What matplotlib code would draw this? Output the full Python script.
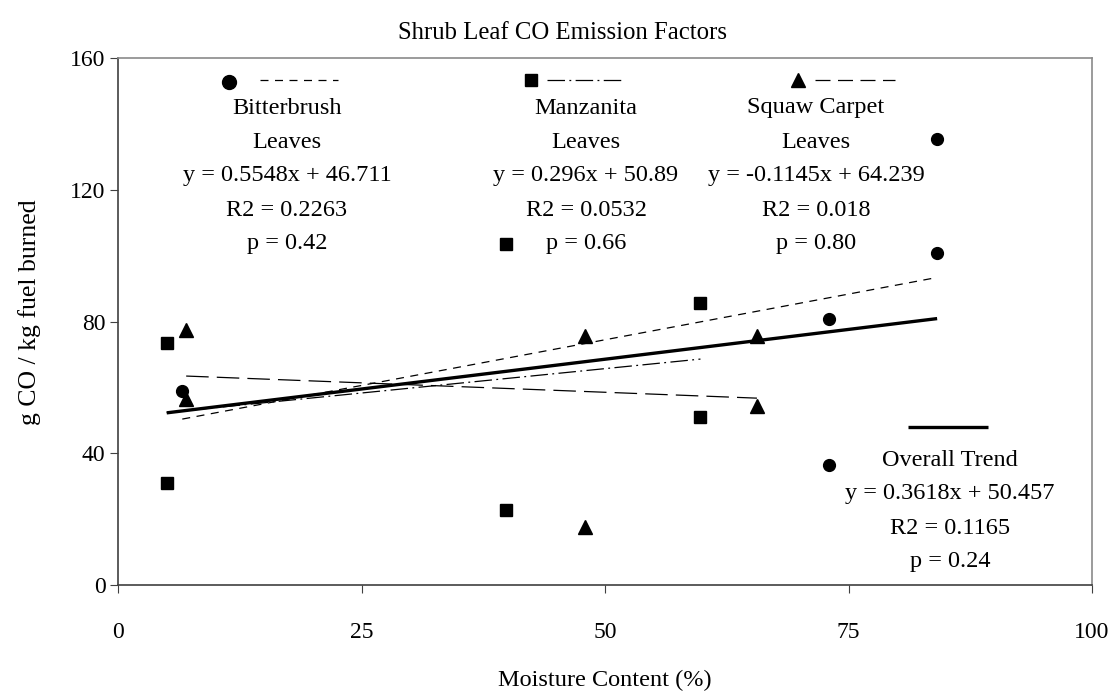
import matplotlib
matplotlib.use("Agg")
import matplotlib.pyplot as plt
import numpy as np

plt.rcParams['font.family'] = ['Liberation Serif', 'DejaVu Serif']

# Data
bitter_x = [6.6, 73.0, 73.0, 84.1, 84.1]
bitter_y = [59.0, 36.4, 80.8, 135.3, 100.8]
manz_x = [5.0, 5.0, 39.8, 39.8, 59.8, 59.8]
manz_y = [73.6, 31.1, 22.8, 103.5, 85.5, 51.1]
squaw_x = [7.0, 7.0, 47.9, 47.9, 65.6, 65.6]
squaw_y = [77.4, 56.4, 75.6, 17.7, 75.6, 54.3]

# Trendline equations (slope, intercept)
bitter_fit = (0.5548, 46.711)
manz_fit = (0.296, 50.89)
squaw_fit = (-0.1145, 64.239)
overall_fit = (0.3618, 50.457)

bitter_text = ["Bitterbrush", "Leaves", "y = 0.5548x + 46.711", "R2 = 0.2263", "p = 0.42"]
manz_text = ["Manzanita", "Leaves", "y = 0.296x + 50.89", "R2 = 0.0532", "p = 0.66"]
squaw_text = ["Squaw Carpet", "Leaves", "y = -0.1145x + 64.239", "R2 = 0.018", "p = 0.80"]
overall_text = ["Overall Trend", "y = 0.3618x + 50.457", "R2 = 0.1165", "p = 0.24"]

xticks = [0, 25, 50, 75, 100]
yticks = [0, 40, 80, 120, 160]

fig = plt.figure(figsize=(11.13, 6.98), dpi=100)
ax = fig.add_axes([118/1113, 1-585/698, (1092-118)/1113, (585-58)/698])

FS = 17.5
TFS = 17
ms = 8.5

ax.plot(bitter_x, bitter_y, 'o', color='black', ms=ms, zorder=5)
ax.plot(manz_x, manz_y, 's', color='black', ms=ms-0.5, zorder=5)
ax.plot(squaw_x, squaw_y, '^', color='black', ms=ms+1, zorder=5)

def trend(xs, fit):
    x0, x1 = min(xs), max(xs)
    xx = np.array([x0, x1])
    return xx, fit[0]*xx + fit[1]

bd = (0, (6.4, 5.2))
md = (0, (14, 3.5, 1.5, 3.5))
sd = (0, (18, 6.5))

xx, yy = trend(bitter_x, bitter_fit)
ax.plot(xx, yy, color='black', lw=0.9, linestyle=bd)
xx, yy = trend(manz_x, manz_fit)
ax.plot(xx, yy, color='black', lw=0.9, linestyle=md)
xx, yy = trend(squaw_x, squaw_fit)
ax.plot(xx, yy, color='black', lw=0.9, linestyle=sd)
all_x = bitter_x + manz_x + squaw_x
xx, yy = trend(all_x, overall_fit)
ax.plot(xx, yy, color='black', lw=2.4, solid_capstyle='butt')

ax.set_xlim(0, 100)
ax.set_ylim(0, 160)
ax.set_xticks(xticks)
ax.set_yticks(yticks)
ax.tick_params(axis='both', labelsize=TFS, direction='out', length=6, color='#404040')
ax.tick_params(axis='x', pad=21)
ax.tick_params(axis='y', pad=3)
for s in ['left', 'bottom']:
    ax.spines[s].set_color('#404040')
    ax.spines[s].set_linewidth(1.2)
for s in ['top', 'right']:
    ax.spines[s].set_color('#8a8a8a')
    ax.spines[s].set_linewidth(1.2)

def ay(py):
    return (585 - py) / (585 - 58)
def ax_(px):
    return (px - 118) / (1092 - 118)

# Marker + line samples
ax.plot([ax_(229)], [ay(82)], 'o', color='black', ms=10, transform=ax.transAxes, clip_on=False)
ax.plot([ax_(260), ax_(338)], [ay(80), ay(80)], color='black', lw=0.9, linestyle=bd, transform=ax.transAxes)
ax.plot([ax_(531)], [ay(80)], 's', color='black', ms=8, transform=ax.transAxes)
ax.plot([ax_(547), ax_(625)], [ay(80), ay(80)], color='black', lw=0.9, linestyle=md, transform=ax.transAxes)
ax.plot([ax_(798)], [ay(80)], '^', color='black', ms=9.5, transform=ax.transAxes)
ax.plot([ax_(815), ax_(895)], [ay(80), ay(80)], color='black', lw=0.9, linestyle=(0, (12, 6)), transform=ax.transAxes)
ax.plot([ax_(908), ax_(988)], [ay(427), ay(427)], color='black', lw=2.4, transform=ax.transAxes, solid_capstyle='butt')

line_ys = [108, 142, 176, 210, 244]
for cx, lines in [(287, bitter_text), (586, manz_text), (816, squaw_text)]:
    for py, t in zip(line_ys, lines):
        ax.text(ax_(cx), ay(py), t, transform=ax.transAxes, ha='center', va='center', fontsize=FS)
for py, t in zip([460, 494, 528, 562], overall_text):
    ax.text(ax_(950), ay(py), t, transform=ax.transAxes, ha='center', va='center', fontsize=FS)

fig.text(562/1113, 1-33/698, "Shrub Leaf CO Emission Factors", ha='center', va='center', fontsize=FS+0.3)
fig.text(605/1113, 1-680/698, "Moisture Content (%)", ha='center', va='center', fontsize=FS)
fig.text(30/1113, 1-312/698, "g CO / kg fuel burned", ha='center', va='center', fontsize=18.5, rotation=90)

fig.savefig("out.png", dpi=100)
